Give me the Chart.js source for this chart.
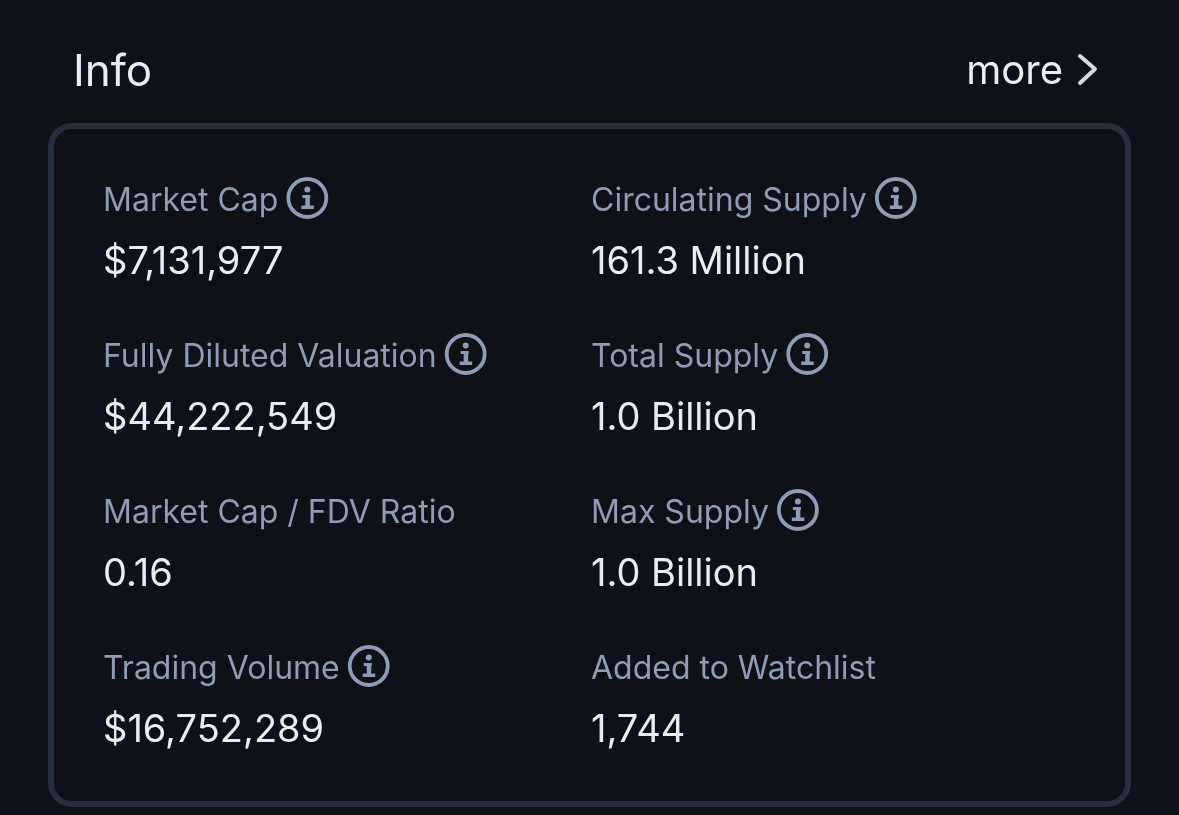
<!DOCTYPE html>
<html lang="en">
<head>
<meta charset="UTF-8">
<title>Info</title>
<script src="https://cdn.jsdelivr.net/npm/chart.js"></script>
<style>
  html, body { margin: 0; padding: 0; background: #0e1117; overflow: hidden; }
  canvas { display: block; }
</style>
</head>
<body>
<canvas id="infoCard" width="1179" height="815"></canvas>
<script>
const titleText = 'Info';
const moreText = 'more';

// two columns, four rows
const columns = [0, 0, 0, 0, 1, 1, 1, 1];
const rows = [0, 1, 2, 3, 0, 1, 2, 3];
const labels = ['Market Cap', 'Fully Diluted Valuation', 'Market Cap / FDV Ratio', 'Trading Volume',
  'Circulating Supply', 'Total Supply', 'Max Supply', 'Added to Watchlist'];
const values = ['$7,131,977', '$44,222,549', '0.16', '$16,752,289',
  '161.3 Million', '1.0 Billion', '1.0 Billion', '1,744'];
const hasInfo = [true, true, false, true, true, true, true, false];

const FONT = 'Inter, "Liberation Sans", sans-serif';
const LABEL_COLOR = '#8f9cb6';
const VALUE_COLOR = '#e9ecf3';
const BORDER_COLOR = '#272f3e';

function drawInfoIcon(ctx, cx, cy) {
  ctx.save();
  ctx.strokeStyle = LABEL_COLOR;
  ctx.fillStyle = LABEL_COLOR;
  ctx.lineWidth = 3.8;
  ctx.beginPath();
  ctx.arc(cx, cy, 19, 0, Math.PI * 2);
  ctx.stroke();
  // slab "i" glyph
  ctx.beginPath();
  ctx.arc(cx, cy - 8.5, 3, 0, Math.PI * 2);
  ctx.fill();
  ctx.fillRect(cx - 5, cy - 3, 8, 3);
  ctx.fillRect(cx - 2, cy - 3, 4.5, 12);
  ctx.fillRect(cx - 6, cy + 7.5, 12.5, 3.5);
  ctx.restore();
}

const cardPlugin = {
  id: 'cardPlugin',
  afterDatasetsDraw(chart) {
    const ctx = chart.ctx;
    const points = chart.getDatasetMeta(0).data;

    // card outline
    ctx.save();
    ctx.strokeStyle = BORDER_COLOR;
    ctx.lineWidth = 6;
    ctx.beginPath();
    ctx.roundRect(51, 126, 1077, 678, 21);
    ctx.stroke();

    // header
    ctx.textBaseline = 'alphabetic';
    ctx.fillStyle = VALUE_COLOR;
    ctx.font = '400 44px ' + FONT;
    ctx.textAlign = 'left';
    ctx.fillText(titleText, 73, 86);
    ctx.font = '400 40px ' + FONT;
    ctx.textAlign = 'right';
    ctx.fillText(moreText, 1063, 84);
    ctx.textAlign = 'left';
    ctx.strokeStyle = '#d5d9e2';
    ctx.lineWidth = 4;
    ctx.lineCap = 'round';
    ctx.lineJoin = 'round';
    ctx.beginPath();
    ctx.moveTo(1080, 56);
    ctx.lineTo(1095, 69);
    ctx.lineTo(1080, 83);
    ctx.stroke();

    // rows
    points.forEach((pt, i) => {
      ctx.font = '400 32px ' + FONT;
      ctx.fillStyle = LABEL_COLOR;
      ctx.fillText(labels[i], pt.x, pt.y);
      if (hasInfo[i]) {
        drawInfoIcon(ctx, pt.x + ctx.measureText(labels[i]).width + 29, pt.y - 13);
      }
      ctx.font = '400 38px ' + FONT;
      ctx.fillStyle = VALUE_COLOR;
      ctx.fillText(values[i], pt.x, pt.y + 63);
    });
    ctx.restore();
  }
};

new Chart(document.getElementById('infoCard').getContext('2d'), {
  type: 'scatter',
  data: {
    datasets: [{
      data: columns.map((c, i) => ({ x: c, y: rows[i] })),
      pointRadius: 0
    }]
  },
  options: {
    responsive: false,
    animation: false,
    devicePixelRatio: 1,
    events: [],
    layout: { padding: 0 },
    plugins: { legend: { display: false }, tooltip: { enabled: false } },
    scales: {
      // column 0 sits at 103px, column 1 at 591px
      x: { display: false, min: -103 / 488, max: (1179 - 103) / 488 },
      // row 0 baseline at 211px, rows 156px apart
      y: { display: false, reverse: true, min: -211 / 156, max: (815 - 211) / 156 }
    }
  },
  plugins: [cardPlugin]
});
</script>
</body>
</html>
